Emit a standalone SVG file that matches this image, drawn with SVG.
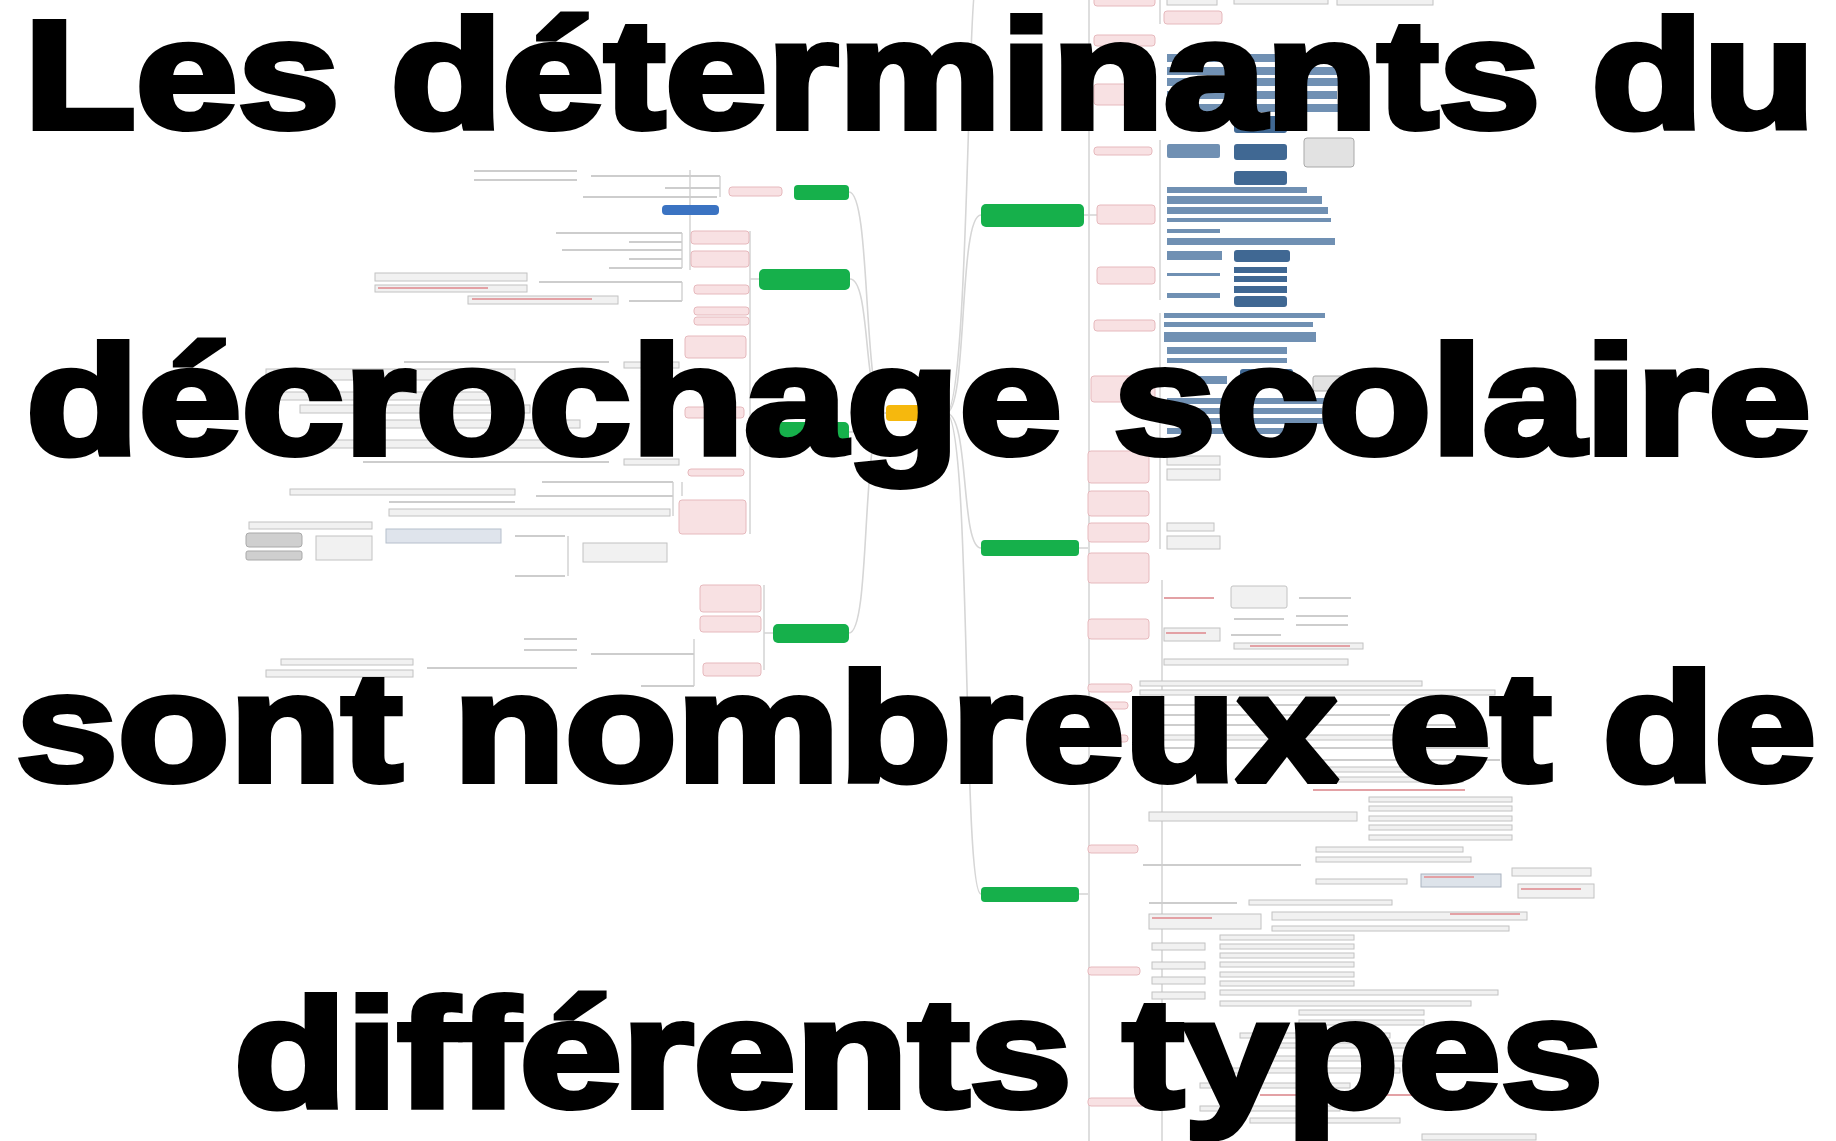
<svg xmlns="http://www.w3.org/2000/svg" width="1836" height="1141" viewBox="0 0 1836 1141">
<defs>
<filter id="soft" x="-5%" y="-5%" width="110%" height="110%"><feGaussianBlur stdDeviation="0.7"/></filter>
<style>
.cn{fill:none;stroke:#d6d6d6;stroke-width:1.6}
.gn{fill:#12b04c}
.ctr{fill:#f6b80a}
.pk{fill:#f8e1e3;stroke:#e6b9bd;stroke-width:1}
.bt{fill:#3b73c2}
.gb{fill:#f1f1f1;stroke:#c2c2c2;stroke-width:1}
.dg{fill:#cfcfcf;stroke:#a9a9a9;stroke-width:1}
.ln{fill:#cdcdcd}
.rl{fill:#e3a1a5}
.lb{fill:#6f90b3}
.db{fill:#3f6793}
.title{font-family:"Liberation Sans",Arial,sans-serif;font-weight:700;font-size:154px;fill:#000;stroke:#000;stroke-width:6;stroke-linejoin:miter;stroke-miterlimit:2}
</style>
</defs>
<rect width="1836" height="1141" fill="#ffffff"/>
<g id="mindmap" filter="url(#soft)">
<g id="connectors">
<path class="cn" d="M886,413 C862,413 872,192 849,192"/>
<path class="cn" d="M886,413 C862,413 872,279 850,279"/>
<path class="cn" d="M886,413 C866,413 870,432 849,432"/>
<path class="cn" d="M886,413 C860,413 872,633 849,633"/>
<path class="cn" d="M946,413 C968,413 958,215 981,215"/>
<path class="cn" d="M946,413 C970,413 960,548 981,548"/>
<path class="cn" d="M946,413 C972,413 962,894 981,894"/>
<path class="cn" d="M946,413 C968,413 968,0 975,-10"/>
<path class="cn" d="M1089,0 V1141"/>
<path class="cn" d="M1162,580 V1141"/>
<path class="cn" d="M1084,215 H1097"/>
<path class="cn" d="M1079,548 H1088"/>
<path class="cn" d="M1079,894 H1088"/>
<path class="cn" d="M764,585 V670"/>
<path class="cn" d="M773,633 H764"/>
<path class="cn" d="M690,170 V270"/>
<path class="cn" d="M759,279 H750"/>
<path class="cn" d="M750,231 V534"/>
<path class="cn" d="M682,233 V268"/>
<path class="cn" d="M682,282 V301"/>
<path class="cn" d="M682,482 V496"/>
<path class="cn" d="M673,482 V516"/>
<path class="cn" d="M568,536 V576"/>
<path class="cn" d="M694,639 V686"/>
<path class="cn" d="M720,176 V197"/>
<path class="cn" d="M1160,0 V24"/>
<path class="cn" d="M1160,140 V300"/>
<path class="cn" d="M1160,313 V440"/>
<path class="cn" d="M1160,456 V549"/>
</g>
<g id="n-center"><rect class="ctr" x="886" y="405" width="60" height="16" rx="4"/></g>
<g id="n-left-1"><rect class="gn" x="794" y="185" width="55" height="15" rx="4"/></g>
<g id="n-left-2"><rect class="gn" x="759" y="269" width="91" height="21" rx="5"/></g>
<g id="n-left-3"><rect class="gn" x="773" y="422" width="76" height="20" rx="5"/></g>
<g id="n-left-4"><rect class="gn" x="773" y="624" width="76" height="19" rx="5"/></g>
<g id="n-right-1"><rect class="gn" x="981" y="204" width="103" height="23" rx="5"/></g>
<g id="n-right-2"><rect class="gn" x="981" y="540" width="98" height="16" rx="4"/></g>
<g id="n-right-3"><rect class="gn" x="981" y="887" width="98" height="15" rx="4"/></g>
<g id="n-left-blue"><rect class="bt" x="662" y="205" width="57" height="10" rx="4"/></g>
<g id="left-pinks">
<rect class="pk" x="729" y="187" width="53" height="9" rx="3"/>
<rect class="pk" x="691" y="231" width="58" height="13" rx="3"/>
<rect class="pk" x="691" y="251" width="58" height="16" rx="3"/>
<rect class="pk" x="694" y="285" width="55" height="9" rx="3"/>
<rect class="pk" x="694" y="307" width="55" height="8" rx="3"/>
<rect class="pk" x="694" y="317" width="55" height="8" rx="3"/>
<rect class="pk" x="685" y="336" width="61" height="22" rx="3"/>
<rect class="pk" x="685" y="407" width="59" height="11" rx="3"/>
<rect class="pk" x="688" y="469" width="56" height="7" rx="3"/>
<rect class="pk" x="679" y="500" width="67" height="34" rx="3"/>
<rect class="pk" x="700" y="585" width="61" height="27" rx="3"/>
<rect class="pk" x="700" y="616" width="61" height="16" rx="3"/>
<rect class="pk" x="703" y="663" width="58" height="13" rx="3"/>
</g>
<g id="left-items">
<rect class="ln" x="474" y="170" width="103" height="2"/>
<rect class="ln" x="474" y="179" width="103" height="2"/>
<rect class="ln" x="591" y="175" width="129" height="2"/>
<rect class="ln" x="665" y="187" width="55" height="2"/>
<rect class="ln" x="583" y="196" width="134" height="2"/>
<rect class="ln" x="556" y="232" width="126" height="2"/>
<rect class="ln" x="629" y="241" width="53" height="2"/>
<rect class="ln" x="562" y="249" width="120" height="2"/>
<rect class="ln" x="629" y="258" width="53" height="2"/>
<rect class="ln" x="609" y="267" width="73" height="2"/>
<rect class="ln" x="539" y="281" width="143" height="2"/>
<rect class="ln" x="629" y="300" width="53" height="2"/>
<rect class="gb" x="375" y="273" width="152" height="8"/>
<rect class="gb" x="375" y="285" width="152" height="7"/>
<rect class="rl" x="378" y="287" width="110" height="2"/>
<rect class="gb" x="468" y="296" width="150" height="8"/>
<rect class="rl" x="472" y="298" width="120" height="2"/>
<rect class="ln" x="404" y="361" width="205" height="2"/>
<rect class="gb" x="624" y="362" width="55" height="6"/>
<rect class="gb" x="266" y="369" width="249" height="11"/>
<rect class="gb" x="266" y="392" width="250" height="8"/>
<rect class="gb" x="300" y="405" width="230" height="8"/>
<rect class="gb" x="380" y="420" width="200" height="8"/>
<rect class="gb" x="266" y="440" width="300" height="8"/>
<rect class="ln" x="363" y="461" width="246" height="2"/>
<rect class="gb" x="624" y="459" width="55" height="6"/>
<rect class="ln" x="542" y="481" width="131" height="2"/>
<rect class="gb" x="290" y="489" width="225" height="6"/>
<rect class="ln" x="536" y="495" width="137" height="2"/>
<rect class="ln" x="389" y="501" width="126" height="2"/>
<rect class="gb" x="389" y="509" width="281" height="7"/>
<rect class="gb" x="249" y="522" width="123" height="7"/>
<rect class="dg" x="246" y="533" width="56" height="14" rx="3"/>
<rect class="dg" x="246" y="551" width="56" height="9" rx="2"/>
<rect class="gb" x="316" y="536" width="56" height="24"/>
<rect x="386" y="529" width="115" height="14" fill="#dfe4ec" stroke="#b6bfcc"/>
<rect class="ln" x="515" y="535" width="50" height="2"/>
<rect class="gb" x="583" y="543" width="84" height="19"/>
<rect class="ln" x="515" y="575" width="50" height="2"/>
<rect class="ln" x="524" y="638" width="53" height="2"/>
<rect class="ln" x="524" y="649" width="53" height="2"/>
<rect class="ln" x="591" y="653" width="103" height="2"/>
<rect class="gb" x="281" y="659" width="132" height="6"/>
<rect class="gb" x="266" y="670" width="147" height="7"/>
<rect class="ln" x="427" y="667" width="150" height="2"/>
<rect class="ln" x="641" y="685" width="53" height="2"/>
</g>
<g id="right-pinks">
<rect class="pk" x="1094" y="-4" width="61" height="10" rx="3"/>
<rect class="pk" x="1164" y="11" width="58" height="13" rx="3"/>
<rect class="pk" x="1094" y="35" width="61" height="11" rx="3"/>
<rect class="pk" x="1094" y="84" width="61" height="21" rx="3"/>
<rect class="pk" x="1094" y="147" width="58" height="8" rx="3"/>
<rect class="pk" x="1097" y="205" width="58" height="19" rx="3"/>
<rect class="pk" x="1097" y="267" width="58" height="17" rx="3"/>
<rect class="pk" x="1094" y="320" width="61" height="11" rx="3"/>
<rect class="pk" x="1091" y="376" width="64" height="26" rx="3"/>
<rect class="pk" x="1088" y="451" width="61" height="32" rx="3"/>
<rect class="pk" x="1088" y="491" width="61" height="25" rx="3"/>
<rect class="pk" x="1088" y="523" width="61" height="19" rx="3"/>
<rect class="pk" x="1088" y="553" width="61" height="30" rx="3"/>
<rect class="pk" x="1088" y="619" width="61" height="20" rx="3"/>
<rect class="pk" x="1088" y="684" width="44" height="8" rx="3"/>
<rect class="pk" x="1088" y="702" width="40" height="7" rx="3"/>
<rect class="pk" x="1088" y="735" width="40" height="7" rx="3"/>
<rect class="pk" x="1088" y="845" width="50" height="8" rx="3"/>
<rect class="pk" x="1088" y="967" width="52" height="8" rx="3"/>
<rect class="pk" x="1088" y="1098" width="58" height="8" rx="3"/>
</g>
<g id="right-blues">
<rect class="gb" x="1167" y="-4" width="50" height="9"/>
<rect class="gb" x="1234" y="-4" width="94" height="8"/>
<rect class="gb" x="1337" y="-4" width="96" height="9"/>
<rect class="lb" x="1167" y="54" width="173" height="8"/>
<rect class="lb" x="1167" y="67" width="170" height="8"/>
<rect class="lb" x="1167" y="78" width="172" height="8"/>
<rect class="lb" x="1167" y="91" width="170" height="8"/>
<rect class="lb" x="1167" y="104" width="171" height="8"/>
<rect class="db" x="1234" y="116" width="53" height="17" rx="3"/>
<rect class="lb" x="1167" y="144" width="53" height="14" rx="2"/>
<rect class="db" x="1234" y="144" width="53" height="16" rx="3"/>
<rect class="dg" x="1304" y="138" width="50" height="29" rx="3" style="fill:#e2e2e2"/>
<rect class="db" x="1234" y="171" width="53" height="14" rx="3"/>
<rect class="lb" x="1167" y="187" width="140" height="6"/>
<rect class="lb" x="1167" y="196" width="155" height="8"/>
<rect class="lb" x="1167" y="207" width="161" height="7"/>
<rect class="lb" x="1167" y="218" width="164" height="4"/>
<rect class="lb" x="1167" y="229" width="53" height="4"/>
<rect class="lb" x="1167" y="238" width="168" height="7"/>
<rect class="lb" x="1167" y="251" width="55" height="9"/>
<rect class="db" x="1234" y="250" width="56" height="12" rx="3"/>
<rect class="lb" x="1167" y="273" width="53" height="3"/>
<rect class="db" x="1234" y="267" width="53" height="6"/>
<rect class="db" x="1234" y="276" width="53" height="6"/>
<rect class="db" x="1234" y="286" width="53" height="7"/>
<rect class="db" x="1234" y="296" width="53" height="11" rx="3"/>
<rect class="lb" x="1167" y="293" width="53" height="5"/>
<rect class="lb" x="1164" y="313" width="161" height="5"/>
<rect class="lb" x="1164" y="322" width="149" height="5"/>
<rect class="lb" x="1164" y="332" width="152" height="10"/>
<rect class="lb" x="1167" y="347" width="120" height="7"/>
<rect class="lb" x="1167" y="358" width="120" height="5"/>
<rect class="db" x="1240" y="369" width="53" height="16" rx="3"/>
<rect class="lb" x="1167" y="376" width="60" height="8"/>
<rect class="dg" x="1313" y="376" width="41" height="15" rx="2" style="fill:#e2e2e2"/>
<rect class="lb" x="1167" y="398" width="160" height="6"/>
<rect class="lb" x="1167" y="408" width="155" height="6"/>
<rect class="lb" x="1167" y="418" width="165" height="6"/>
<rect class="lb" x="1167" y="428" width="120" height="6"/>
<rect class="gb" x="1167" y="456" width="53" height="9"/>
<rect class="gb" x="1167" y="469" width="53" height="11"/>
<rect class="gb" x="1167" y="523" width="47" height="8"/>
<rect class="gb" x="1167" y="536" width="53" height="13"/>
</g>
<g id="right-items">
<rect class="rl" x="1164" y="597" width="50" height="2"/>
<rect class="gb" x="1231" y="586" width="56" height="22" rx="2"/>
<rect class="ln" x="1299" y="597" width="52" height="2"/>
<rect class="gb" x="1164" y="628" width="56" height="13"/>
<rect class="rl" x="1166" y="632" width="40" height="2"/>
<rect class="ln" x="1234" y="618" width="50" height="2"/>
<rect class="ln" x="1296" y="615" width="52" height="2"/>
<rect class="ln" x="1296" y="624" width="52" height="2"/>
<rect class="ln" x="1231" y="634" width="50" height="2"/>
<rect class="gb" x="1234" y="643" width="129" height="6"/>
<rect class="rl" x="1250" y="645" width="100" height="2"/>
<rect class="gb" x="1164" y="659" width="184" height="6"/>
<rect class="gb" x="1140" y="681" width="282" height="5"/>
<rect class="gb" x="1140" y="690" width="355" height="5"/>
<rect class="ln" x="1140" y="704" width="300" height="2"/>
<rect class="ln" x="1140" y="714" width="250" height="2"/>
<rect class="ln" x="1140" y="724" width="330" height="2"/>
<rect class="gb" x="1140" y="735" width="290" height="5"/>
<rect class="ln" x="1140" y="747" width="350" height="2"/>
<rect class="ln" x="1300" y="759" width="200" height="2"/>
<rect class="gb" x="1313" y="767" width="150" height="5"/>
<rect class="gb" x="1313" y="777" width="150" height="5"/>
<rect class="rl" x="1313" y="789" width="152" height="2"/>
<rect class="gb" x="1369" y="797" width="143" height="5"/>
<rect class="gb" x="1369" y="806" width="143" height="5"/>
<rect class="gb" x="1369" y="816" width="143" height="5"/>
<rect class="gb" x="1369" y="825" width="143" height="5"/>
<rect class="gb" x="1369" y="835" width="143" height="5"/>
<rect class="gb" x="1149" y="812" width="208" height="9"/>
<rect class="gb" x="1316" y="847" width="147" height="5"/>
<rect class="gb" x="1316" y="857" width="155" height="5"/>
<rect class="ln" x="1143" y="864" width="158" height="2"/>
<rect class="gb" x="1316" y="879" width="91" height="5"/>
<rect x="1421" y="874" width="80" height="13" fill="#dde3ea" stroke="#aab3c0"/>
<rect class="rl" x="1424" y="876" width="50" height="2"/>
<rect class="gb" x="1512" y="868" width="79" height="8"/>
<rect class="gb" x="1518" y="884" width="76" height="14"/>
<rect class="rl" x="1521" y="888" width="60" height="2"/>
<rect class="ln" x="1149" y="902" width="88" height="2"/>
<rect class="gb" x="1249" y="900" width="143" height="5"/>
<rect class="gb" x="1149" y="914" width="112" height="15"/>
<rect class="rl" x="1152" y="917" width="60" height="2"/>
<rect class="gb" x="1272" y="912" width="255" height="8"/>
<rect class="rl" x="1450" y="913" width="70" height="2"/>
<rect class="gb" x="1272" y="926" width="237" height="5"/>
<rect class="gb" x="1152" y="943" width="53" height="7"/>
<rect class="gb" x="1220" y="935" width="134" height="5"/>
<rect class="gb" x="1220" y="944" width="134" height="5"/>
<rect class="gb" x="1220" y="953" width="134" height="5"/>
<rect class="gb" x="1220" y="962" width="134" height="5"/>
<rect class="gb" x="1220" y="972" width="134" height="5"/>
<rect class="gb" x="1220" y="981" width="134" height="5"/>
<rect class="gb" x="1152" y="962" width="53" height="7"/>
<rect class="gb" x="1152" y="977" width="53" height="7"/>
<rect class="gb" x="1152" y="992" width="53" height="7"/>
<rect class="gb" x="1220" y="990" width="278" height="5"/>
<rect class="gb" x="1220" y="1001" width="251" height="5"/>
<rect class="gb" x="1299" y="1010" width="125" height="5"/>
<rect class="gb" x="1299" y="1020" width="125" height="5"/>
<rect class="gb" x="1240" y="1033" width="150" height="5"/>
<rect class="gb" x="1250" y="1043" width="160" height="5"/>
<rect class="gb" x="1260" y="1056" width="150" height="5"/>
<rect class="gb" x="1230" y="1068" width="170" height="5"/>
<rect class="gb" x="1200" y="1083" width="150" height="5"/>
<rect class="rl" x="1260" y="1094" width="180" height="2"/>
<rect class="gb" x="1200" y="1106" width="140" height="5"/>
<rect class="gb" x="1250" y="1118" width="150" height="5"/>
<rect class="gb" x="1422" y="1134" width="114" height="6"/>
</g>
</g>
<g id="title">
<text class="title" x="24" y="128" textLength="1791" lengthAdjust="spacingAndGlyphs">Les déterminants du</text>
<text class="title" x="26" y="454" textLength="1785" lengthAdjust="spacingAndGlyphs">décrochage scolaire</text>
<text class="title" x="16" y="781" textLength="1800" lengthAdjust="spacingAndGlyphs">sont nombreux et de</text>
<text class="title" x="234" y="1107" textLength="1369" lengthAdjust="spacingAndGlyphs">différents types</text>
</g>
</svg>
